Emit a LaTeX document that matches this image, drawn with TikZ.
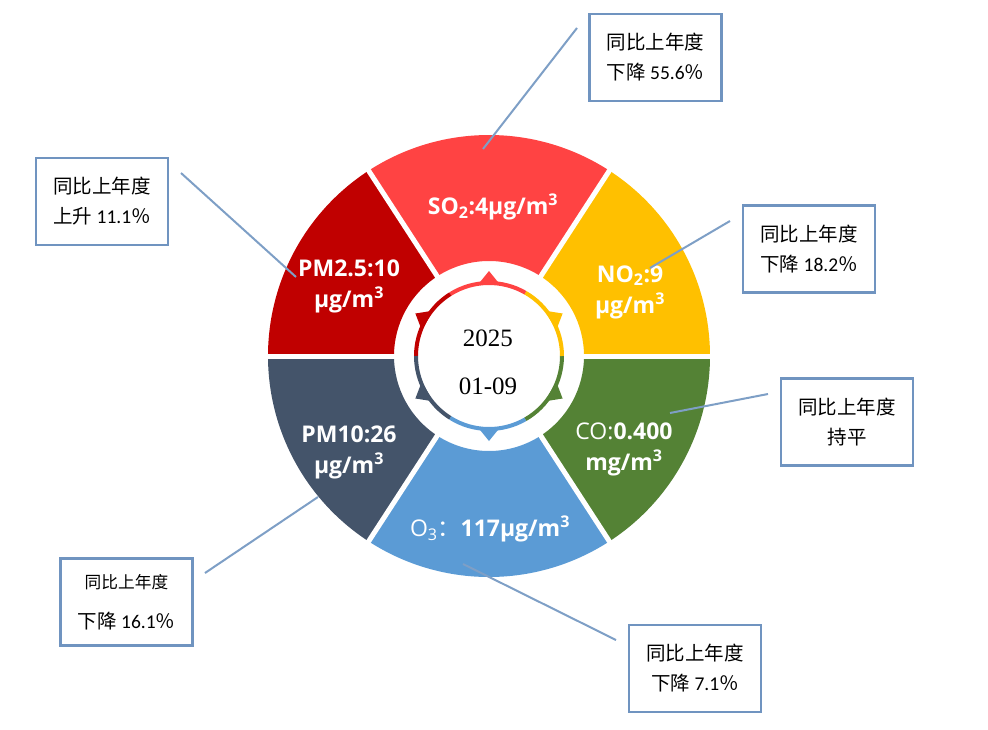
\documentclass[tikz,border=0pt]{standalone}
\usepackage{fontspec}
\setmainfont{Liberation Serif}
\newfontfamily\cjk{Noto Sans CJK SC}
\newfontfamily\labfont{Open Sans}
\newfontfamily\numfont{Carlito}
\definecolor{pmdeux}{HTML}{C00000}
\definecolor{sodeux}{HTML}{FF4343}
\definecolor{nodeux}{HTML}{FFC000}
\definecolor{covert}{HTML}{548235}
\definecolor{otrois}{HTML}{5B9BD5}
\definecolor{pmdix}{HTML}{44546A}
\definecolor{bordure}{HTML}{7094C0}
\tikzset{
  lab/.style={text=white, align=center, font=\labfont\bfseries\fontsize{23}{31}\selectfont},
  boite/.style={draw=bordure, line width=2.5pt, fill=white, minimum width=132pt, minimum height=87pt,
    align=center, font=\cjk\fontsize{19.5}{30}\selectfont},
  trait/.style={draw=bordure!90!white, line width=2pt}
}

\begin{document}
\begin{tikzpicture}[x=1pt,y=1pt]
\useasboundingbox (-489,-373) rectangle (499,356);
% secteurs
\foreach \a/\b/\c in {57/123/sodeux, 123/180/pmdeux, 180/237/pmdix, 237/303/otrois, 303/360/covert, 0/57/nodeux}
  \fill[\c] (\a:95) arc (\a:\b:95) -- (\b:221) arc (\b:\a:221) -- cycle;
\foreach \a in {0,57,123,180,237,303}
  \draw[white, line width=5pt] (\a:90) -- (\a:226);
% anneau et dents
\foreach \a/\b/\c in {60/122/sodeux, 122/180/pmdeux, 180/238/pmdix, 238/300/otrois, 300/360/covert, 0/60/nodeux}
  \draw[\c, line width=4pt] (\a:73) arc (\a:\b:73);
\foreach \a/\c in {90/sodeux, 150/pmdeux, 210/pmdix, 270/otrois, 330/covert, 30/nodeux}
  \fill[\c] ({\a-9}:72) -- (\a:85) -- ({\a+9}:72) -- cycle;
\node[font=\fontsize{25}{30}\selectfont] (annee) at (-1,18) {2025};
\node[font=\fontsize{25}{30}\selectfont] (date) at (-1,-30) {01-09};
% valeurs
\node[lab] (so2) at (4,149) {SO\textsubscript{2}:4μg/m\textsuperscript{3}};
\node[lab] (pm25) at (-140,70) {PM2.5:10\\μg/m\textsuperscript{3}};
\node[lab] (no2) at (141,64) {NO\textsubscript{2}:9\\μg/m\textsuperscript{3}};
\node[lab] (co) at (135,-93) {{\mdseries CO:}0.400\\mg/m\textsuperscript{3}};
\node[lab] (pm10) at (-140,-96) {PM10:26\\μg/m\textsuperscript{3}};
\node[lab] (o3) at (1,-173) {{\mdseries O\textsubscript{3}{\cjk ：}}117μg/m\textsuperscript{3}};
% encadres
\node[boite] (bso2) at (166.5,298.5) {同比上年度\\下降 {\numfont 55.6}％};
\node[boite] (bpm25) at (-387,154.5) {同比上年度\\上升 {\numfont 11.1}％};
\node[boite] (bno2) at (320,107) {同比上年度\\下降 {\numfont 18.2}％};
\node[boite] (bco) at (358,-66) {同比上年度\\持平};
\node[boite] (bpm10) at (-362.5,-246) {{\fontsize{16.7}{30}\selectfont 同比上年度}\\[10pt]下降 {\numfont 16.1}％};
\node[boite] (bo3) at (206,-312.5) {同比上年度\\下降 {\numfont 7.1}％};
% traits
\coordinate (so2a) at (88,328);    \coordinate (so2b) at (-6,207);
\coordinate (pm25a) at (-308,183); \coordinate (pm25b) at (-193,79);
\coordinate (no2a) at (241,135);   \coordinate (no2b) at (161,88);
\coordinate (coa) at (279,-38);    \coordinate (cob) at (181,-57);
\coordinate (pm10a) at (-284,-217);\coordinate (pm10b) at (-171,-141);
\coordinate (o3a) at (127,-284);   \coordinate (o3b) at (-26,-208);
\foreach \n in {so2,pm25,no2,co,pm10,o3}
  \draw[trait] (\n a) -- (\n b);
\end{tikzpicture}
\end{document}
